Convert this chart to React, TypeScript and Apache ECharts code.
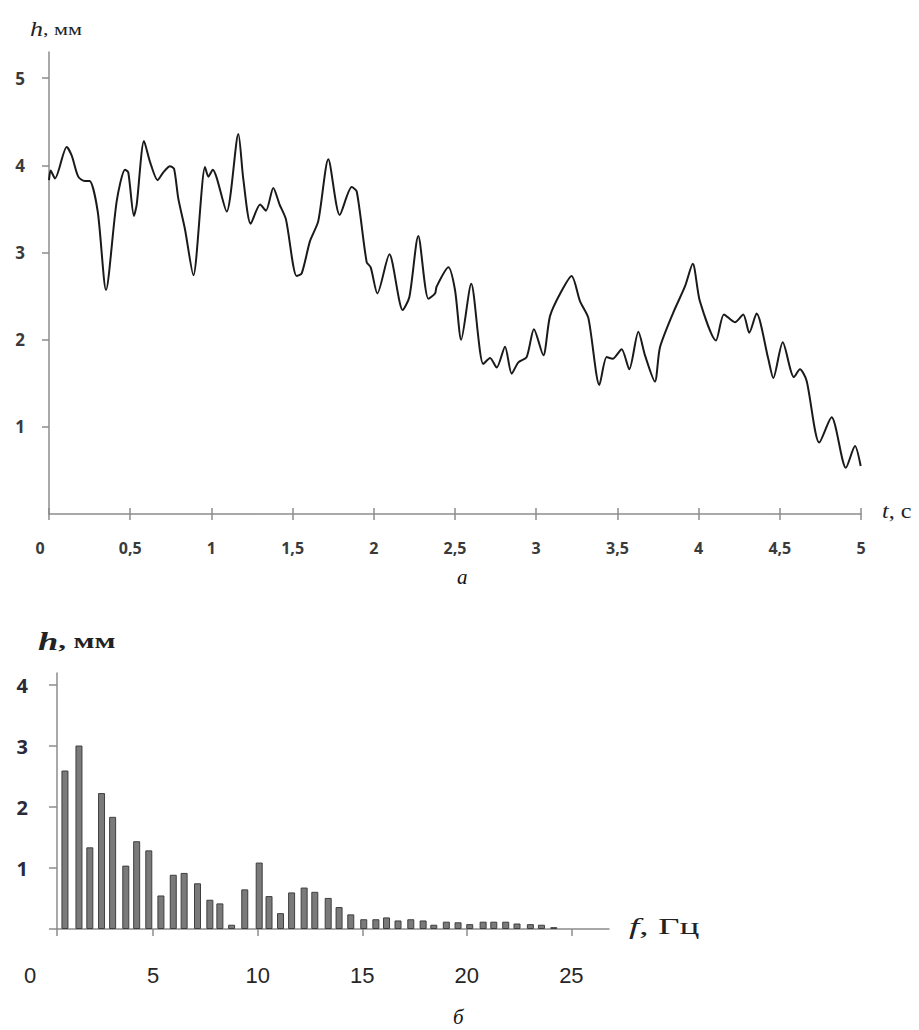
import React, { useEffect, useRef } from 'react';
import * as echarts from 'echarts';

// ---- Chart (a): h(t) ----
const timeS = [
  0, 0.01, 0.037, 0.109, 0.14, 0.18, 0.22, 0.25, 0.3, 0.351,
  0.417, 0.468, 0.488, 0.523, 0.54, 0.585, 0.622, 0.669, 0.704, 0.745,
  0.77, 0.796, 0.837, 0.889, 0.961, 0.981, 1.008, 1.094, 1.166, 1.196,
  1.242, 1.3, 1.336, 1.381, 1.42, 1.459, 1.525, 1.556, 1.607, 1.658,
  1.72, 1.79, 1.864, 1.895, 1.956, 1.981, 2.022, 2.096, 2.178, 2.219,
  2.274, 2.336, 2.377, 2.387, 2.459, 2.5, 2.538, 2.6, 2.674, 2.716,
  2.757, 2.808, 2.849, 2.89, 2.941, 2.986, 3.044, 3.085, 3.151, 3.218,
  3.27, 3.321, 3.389, 3.434, 3.471, 3.526, 3.573, 3.629, 3.67, 3.731,
  3.762, 3.844, 3.916, 3.964, 4.008, 4.107, 4.156, 4.224, 4.275, 4.312,
  4.357, 4.429, 4.46, 4.518, 4.587, 4.624, 4.665, 4.743, 4.819, 4.907,
  4.963, 4.998,
];
const heightMm = [
  3.83, 3.94, 3.85, 4.21, 4.11, 3.87, 3.82, 3.82, 3.47, 2.57,
  3.59, 3.95, 3.92, 3.42, 3.55, 4.28, 4.04, 3.83, 3.92, 3.99,
  3.96, 3.62, 3.27, 2.74, 3.98, 3.87, 3.95, 3.47, 4.36, 3.85,
  3.33, 3.55, 3.48, 3.74, 3.55, 3.38, 2.73, 2.76, 3.13, 3.36,
  4.07, 3.43, 3.75, 3.7, 2.89, 2.83, 2.53, 2.98, 2.34, 2.49,
  3.19, 2.47, 2.53, 2.61, 2.83, 2.57, 2.0, 2.64, 1.72, 1.79,
  1.68, 1.92, 1.61, 1.74, 1.8, 2.12, 1.82, 2.27, 2.54, 2.73,
  2.44, 2.25, 1.48, 1.8, 1.78, 1.89, 1.66, 2.09, 1.82, 1.52,
  1.91, 2.31, 2.61, 2.87, 2.44, 1.99, 2.29, 2.2, 2.29, 2.08,
  2.3, 1.78, 1.56, 1.97, 1.57, 1.66, 1.53, 0.82, 1.11, 0.53,
  0.78, 0.55,
];
const topYLabelValues = [1, 2, 3, 4, 5];

// ---- Chart (б): spectrum ----
const freqHz = [
  0.78, 1.45, 1.97, 2.53, 3.06, 3.69, 4.21, 4.79, 5.37, 5.96,
  6.48, 7.12, 7.71, 8.19, 8.75, 9.38, 10.07, 10.54, 11.09, 11.62,
  12.22, 12.73, 13.37, 13.89, 14.45, 15.07, 15.65, 16.16, 16.71, 17.32,
  17.91, 18.42, 19.02, 19.58, 20.14, 20.78, 21.29, 21.86, 22.4, 23.04,
  23.57, 24.16,
];
const ampMm = [
  2.6, 3.01, 1.34, 2.23, 1.84, 1.04, 1.44, 1.29, 0.55, 0.89,
  0.92, 0.75, 0.48, 0.42, 0.07, 0.65, 1.09, 0.54, 0.26, 0.6,
  0.68, 0.61, 0.51, 0.36, 0.24, 0.16, 0.16, 0.19, 0.14, 0.16,
  0.14, 0.07, 0.12, 0.11, 0.08, 0.12, 0.12, 0.12, 0.09, 0.08,
  0.07, 0.03,
];
const bottomXTickValues = [0.4, 5, 10, 15, 20, 25];
const bottomXTickLabels = ['0', '5', '10', '15', '20', '25'];
const bottomYTickValues = [0, 1, 2, 3, 4];
const bottomYLabelValues = [1, 2, 3, 4];

const AXIS = '#8c8c8c';
const SERIF = '"Liberation Serif", "DejaVu Serif", serif';
const SANS = '"Open Sans", "Liberation Sans", sans-serif';
const ARIAL = '"Liberation Sans", Arial, sans-serif';

export default function App() {
  const ref = useRef<HTMLDivElement>(null);
  useEffect(() => {
    const chart = echarts.init(ref.current!, null, { renderer: 'svg' });
    const axisLine = { show: true, lineStyle: { color: AXIS, width: 1.5 } };
    const topLbl = { fontFamily: SANS, fontSize: 16, fontWeight: 700, color: '#3a3a3a' };
    const botXLbl = { fontFamily: ARIAL, fontSize: 22, color: '#262626' };
    chart.setOption({
      animation: false,
      backgroundColor: '#ffffff',
      grid: [
        { left: 49, top: 52, width: 812, height: 462 },
        { left: 57, top: 673, width: 552, height: 256 },
      ],
      xAxis: [
        {
          gridIndex: 0, type: 'value', min: 0, max: 5, interval: 0.5,
          axisLine,
          axisTick: { show: true, length: 6, lineStyle: { color: AXIS, width: 1.5 } },
          splitLine: { show: false },
          axisLabel: {
            margin: 26, ...topLbl,
            formatter: (v: number) => (v === 0 ? '{z|0}' : String(v).replace('.', ',')),
            rich: { z: { padding: [0, 18, 0, 0], ...topLbl } },
          },
        },
        {
          gridIndex: 0, type: 'value', min: 0, max: 5, interval: 0.5, position: 'bottom',
          axisLine: { show: false },
          axisTick: { show: true, inside: true, length: 6, lineStyle: { color: AXIS, width: 1.5 } },
          axisLabel: { show: false },
          splitLine: { show: false },
        },
        {
          gridIndex: 1, type: 'value', min: 0.4, max: 26.8,
          axisLine,
          axisTick: { show: true, length: 7, customValues: bottomXTickValues, lineStyle: { color: AXIS, width: 1.5 } },
          splitLine: { show: false },
          axisLabel: {
            customValues: bottomXTickValues,
            margin: 35, ...botXLbl,
            formatter: (v: number) => {
              const i = bottomXTickValues.indexOf(v);
              const s = i >= 0 ? bottomXTickLabels[i] : '';
              return i === 0 ? '{z|' + s + '}' : s;
            },
            rich: { z: { padding: [0, 54, 0, 0], ...botXLbl } },
          },
        },
      ],
      yAxis: [
        {
          gridIndex: 0, type: 'value', min: 0, max: 5.3,
          axisLine,
          axisTick: { show: true, length: 7, customValues: topYLabelValues, lineStyle: { color: AXIS, width: 1.5 } },
          axisLabel: { customValues: topYLabelValues, margin: 24, fontFamily: SANS, fontSize: 17, fontWeight: 700, color: '#3a3a3a' },
          splitLine: { show: false },
        },
        {
          gridIndex: 1, type: 'value', min: 0, max: 4.2,
          axisLine,
          axisTick: { show: true, length: 8, customValues: bottomYTickValues, lineStyle: { color: AXIS, width: 1.5 } },
          axisLabel: { customValues: bottomYLabelValues, margin: 29, fontFamily: SANS, fontSize: 20, fontWeight: 700, color: '#2a2a3a' },
          splitLine: { show: false },
        },
      ],
      series: [
        {
          type: 'line', xAxisIndex: 0, yAxisIndex: 0,
          data: timeS.map((t, i) => [t, heightMm[i]]),
          showSymbol: false, smooth: 0.25,
          lineStyle: { color: '#1a1a1a', width: 2 },
        },
        {
          type: 'bar', xAxisIndex: 2, yAxisIndex: 1,
          data: freqHz.map((f, i) => [f, ampMm[i]]),
          barWidth: 7,
          itemStyle: { color: '#7a7a7a', borderColor: '#3f3f3f', borderWidth: 1 },
        },
      ],
      graphic: [
        {
          type: 'text', x: 30, y: 19, scaleX: 1.3,
          style: {
            text: '{i|h}{n|, мм}',
            rich: {
              i: { fontFamily: SERIF, fontStyle: 'italic', fontSize: 20, fill: '#222' },
              n: { fontFamily: SERIF, fontSize: 17, fill: '#222' },
            },
          },
        },
        {
          type: 'text', x: 882, y: 501, scaleX: 1.15,
          style: {
            text: '{i|t}{n|, с}',
            rich: {
              i: { fontFamily: SERIF, fontStyle: 'italic', fontSize: 21, fill: '#222' },
              n: { fontFamily: SERIF, fontSize: 21, fill: '#222' },
            },
          },
        },
        {
          type: 'text', x: 457, y: 566,
          style: { text: 'а', fontFamily: SERIF, fontStyle: 'italic', fontSize: 21, fill: '#111' },
        },
        {
          type: 'text', x: 38, y: 628, scaleX: 1.4,
          style: {
            text: '{i|h}{n|, мм}',
            rich: {
              i: { fontFamily: SERIF, fontStyle: 'italic', fontWeight: 'bold', fontSize: 26, fill: '#222' },
              n: { fontFamily: SERIF, fontWeight: 'bold', fontSize: 22, fill: '#222' },
            },
          },
        },
        {
          type: 'text', x: 629, y: 914, scaleX: 1.55,
          style: {
            text: '{i|f}{n|, Гц}',
            rich: {
              i: { fontFamily: SERIF, fontStyle: 'italic', fontSize: 24, fill: '#222' },
              n: { fontFamily: SERIF, fontSize: 24, fill: '#222' },
            },
          },
        },
        {
          type: 'text', x: 453, y: 1006,
          style: { text: 'б', fontFamily: SERIF, fontStyle: 'italic', fontSize: 21, fill: '#111' },
        },
      ],
    });
    return () => chart.dispose();
  }, []);
  return <div ref={ref} style={{ position: 'absolute', left: 0, top: 0, width: 919, height: 1030 }} />;
}
